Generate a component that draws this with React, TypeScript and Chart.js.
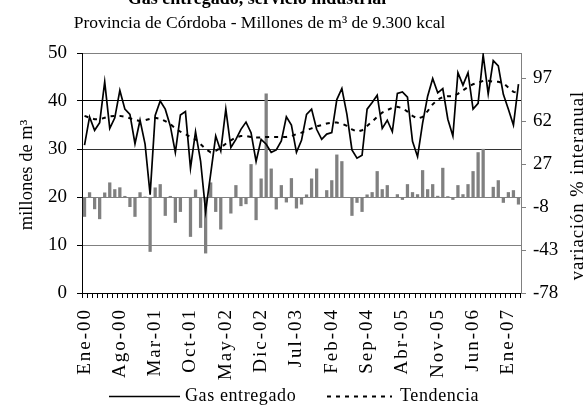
import React, { useEffect, useRef } from 'react';
import { Chart, registerables } from 'chart.js';

Chart.register(...registerables);

const FONT = '"Liberation Serif", "Times New Roman", serif';

const TITLE = 'Gas entregado, servicio industrial';
const SUBTITLE = 'Provincia de Córdoba - Millones de m³ de 9.300 kcal';
const Y_TITLE = 'millones de m³';
const Y1_TITLE = 'variación % interanual';

const MONTHS = ['Ene', 'Feb', 'Mar', 'Abr', 'May', 'Jun', 'Jul', 'Ago', 'Sep', 'Oct', 'Nov', 'Dic'];
const YEARS = ['00', '01', '02', '03', '04', '05', '06', '07'];
const LAST_MONTH_2007 = 3; // Ene-07 .. Mar-07

const CATEGORIES: string[] = [];
YEARS.forEach((y, yi) => {
  const n = yi === YEARS.length - 1 ? LAST_MONTH_2007 : 12;
  for (let m = 0; m < n; m++) CATEGORIES.push(`${MONTHS[m]}-${y}`);
});

// Gas entregado (millones de m3)
const GAS = [
  30.8, 36.7, 33.9, 35.5, 44.0, 34.3, 36.5, 42.2, 38.3, 37.2,
  31.1, 36.0, 31.0, 20.5, 37.0, 40.0, 38.3, 34.8, 29.3, 37.1,
  37.8, 26.0, 33.6, 27.5, 17.0, 24.8, 32.7, 29.6, 38.3, 30.3,
  32.0, 34.1, 35.6, 33.4, 27.4, 32.0, 31.0, 29.3, 29.8, 31.7,
  36.7, 35.0, 29.3, 31.8, 37.2, 38.3, 34.1, 32.0, 33.1, 33.4,
  40.3, 42.6, 37.2, 29.8, 28.1, 28.7, 38.3, 39.7, 41.2, 34.3,
  36.0, 33.6, 41.6, 41.9, 40.8, 31.6, 28.4, 35.4, 41.0, 44.7,
  41.7, 42.6, 36.2, 32.7, 45.9, 43.3, 45.9, 38.3, 39.5, 49.6,
  41.5, 48.4, 47.3, 41.4, 38.3, 35.0, 43.5,
];

// Tendencia (millones de m3)
const TREND = [
  36.9, 36.5, 36.2, 36.2, 36.5, 36.8, 36.9, 36.9, 36.7, 36.4,
  36.1, 35.8, 36.0, 36.3, 36.5, 36.3, 35.8, 35.2, 34.3, 33.6,
  33.1, 32.5, 32.0, 31.0, 30.0, 29.3, 29.6, 30.3, 31.1, 31.8,
  32.4, 32.7, 32.7, 32.5, 32.4, 32.4, 32.5, 32.5, 32.5, 32.5,
  32.5, 32.7, 33.1, 33.4, 33.9, 34.3, 34.7, 35.0, 35.3, 35.5,
  35.5, 35.3, 34.8, 34.1, 33.6, 33.9, 34.8, 35.7, 36.7, 37.6,
  38.1, 38.6, 38.8, 38.5, 37.8, 36.9, 36.3, 36.7, 37.9, 39.3,
  40.3, 40.8, 41.0, 41.0, 41.5, 42.2, 42.9, 43.5, 43.8, 44.2,
  44.2, 44.0, 44.0, 43.7, 42.8, 41.9, 41.7,
];

// Variación % interanual
const VARIATION = [
  -16, 4, -9.8, -17.9, 3.8, 12, 6.5, 8, 1, -8,
  -16, 4, 0.5, -44.5, 7.9, 10.6, -15.2, 1, -20.9, -12,
  0, -32.3, 6.2, -25, -45.8, 12, -12, -26.3, 0, -13.3,
  9.8, -7.3, -5.7, 26.9, -18.7, 15.2, 84.4, 23.3, -10, 9.8,
  -4.3, 15.5, -9.2, -6, 2.2, 15.2, 23.3, 0, 5.7, 13.8,
  34.7, 29.3, 0, -15.2, -4.6, -12, 2.2, 4.1, 21.2, 6.5,
  9.8, 0, 2.4, -2.2, 10.6, 4.1, 2.4, 22, 6.5, 10.6,
  1.1, 23.9, 0.8, -2.2, 9.8, 2.4, 10.6, 21.2, 36.6, 39.3,
  0, 8.4, 13.8, -4.6, 4.1, 5.7, -6,
];

const LEFT_TICKS = [0, 10, 20, 30, 40, 50];
const RIGHT_TICKS = [-78, -43, -8, 27, 62, 97];
const LABEL_EVERY = 7;

const xSpacingPlugin = {
  id: 'xSpacing',
  beforeDraw(chart: any) {
    const xs: any = chart.scales.x;
    if (xs && !xs.__spaced) {
      const orig = xs.drawLabels.bind(xs);
      xs.drawLabels = (area: any) => {
        const c: any = chart.ctx;
        c.save();
        c.letterSpacing = '2px';
        orig(area);
        c.restore();
      };
      xs.__spaced = true;
    }
  },
};

const textPlugin = {
  id: 'texts',
  afterDraw(chart: any) {
    const ctx: any = chart.ctx;
    const area = chart.chartArea;
    ctx.save();
    ctx.fillStyle = '#000';
    ctx.textAlign = 'center';
    ctx.textBaseline = 'alphabetic';

    ctx.font = `bold 18px ${FONT}`;
    ctx.fillText(TITLE, 257, 4);
    ctx.font = `17.5px ${FONT}`;
    ctx.fillText(SUBTITLE, 259.5, 28);

    // Axis titles
    ctx.font = `18.5px ${FONT}`;
    ctx.save();
    ctx.translate(32, (area.top + area.bottom) / 2 + 2);
    ctx.rotate(-Math.PI / 2);
    ctx.fillText(Y_TITLE, 0, 0);
    ctx.restore();

    const y1 = chart.scales.y1;
    ctx.save();
    ctx.translate(583, (y1.getPixelForValue(RIGHT_TICKS[0]) + y1.getPixelForValue(RIGHT_TICKS[RIGHT_TICKS.length - 1])) / 2);
    ctx.rotate(-Math.PI / 2);
    ctx.letterSpacing = '1px';
    ctx.fillText(Y1_TITLE, 0, 0);
    ctx.restore();

    // Legend
    const items = [
      { ds: chart.data.datasets[0], x0: 109, x1: 180, tx: 185 },
      { ds: chart.data.datasets[1], x0: 327, x1: 392, tx: 400 },
    ];
    ctx.font = `18px ${FONT}`;
    ctx.textAlign = 'left';
    ctx.letterSpacing = '0.6px';
    items.forEach((it) => {
      ctx.save();
      ctx.strokeStyle = it.ds.borderColor;
      ctx.lineWidth = it.ds.borderWidth;
      ctx.setLineDash(it.ds.borderDash || []);
      ctx.beginPath();
      ctx.moveTo(it.x0, 396.5);
      ctx.lineTo(it.x1, 396.5);
      ctx.stroke();
      ctx.restore();
      ctx.fillText(it.ds.label, it.tx, 401);
    });
    ctx.restore();
  },
};

export default function App() {
  const ref = useRef<HTMLCanvasElement | null>(null);

  useEffect(() => {
    if (!ref.current) return;
    const chart = new Chart(ref.current, {
      data: {
        labels: CATEGORIES,
        datasets: [
          {
            type: 'line',
            label: 'Gas entregado',
            data: GAS,
            borderColor: '#000',
            borderWidth: 1.7,
            pointRadius: 0,
            tension: 0,
            yAxisID: 'y',
            order: 1,
          },
          {
            type: 'line',
            label: 'Tendencia',
            data: TREND,
            borderColor: '#000',
            borderWidth: 2,
            borderDash: [4, 5],
            pointRadius: 0,
            tension: 0,
            yAxisID: 'y',
            order: 2,
          },
          {
            type: 'bar',
            label: 'variación % interanual',
            data: VARIATION,
            backgroundColor: '#808080',
            borderWidth: 0,
            categoryPercentage: 1,
            barPercentage: 0.65,
            yAxisID: 'y1',
            order: 3,
          },
        ] as any,
      },
      options: {
        animation: false,
        responsive: false,
        devicePixelRatio: 1,
        layout: { padding: { top: 53, left: 0, right: 0, bottom: 0 } },
        plugins: { legend: { display: false }, tooltip: { enabled: false }, title: { display: false } },
        scales: {
          x: {
            type: 'category',
            offset: true,
            grid: { drawOnChartArea: false, offset: true, tickLength: 5, color: '#000', tickColor: '#000' },
            border: { color: '#000', width: 1 },
            ticks: {
              autoSkip: false,
              maxRotation: 90,
              minRotation: 90,
              padding: 10,
              color: '#000',
              font: { family: FONT, size: 19 },
              callback: (_v: any, i: number) => (i % LABEL_EVERY === 0 ? CATEGORIES[i] : ''),
            },
            afterFit: (s: any) => { s.height = 112; },
          },
          y: {
            type: 'linear',
            position: 'left',
            min: LEFT_TICKS[0],
            max: LEFT_TICKS[LEFT_TICKS.length - 1],
            ticks: { stepSize: 10, padding: 10, color: '#000', font: { family: FONT, size: 19 } },
            grid: {
              tickLength: 5,
              tickColor: '#000',
              color: (c: any) => {
                const v = c.tick?.value;
                if (v === 0) return 'rgba(0,0,0,0)';
                if (v === 40) return '#000';
                if (v === 30) return '#333';
                return '#808080';
              },
            },
            border: { color: '#000', width: 1 },
            afterFit: (s: any) => { s.width = 82; },
          },
          y1: {
            type: 'linear',
            position: 'right',
            min: -78,
            max: 117.35,
            afterBuildTicks: (s: any) => { s.ticks = RIGHT_TICKS.map((v) => ({ value: v })); },
            ticks: { padding: 7, color: '#000', font: { family: FONT, size: 19 } },
            grid: { drawOnChartArea: false, tickLength: 5, color: '#808080', tickColor: '#808080' },
            border: { color: '#808080', width: 1 },
            afterFit: (s: any) => { s.width = 66; },
          },
        },
      } as any,
      plugins: [xSpacingPlugin, textPlugin],
    });
    return () => chart.destroy();
  }, []);

  return (
    <div style={{ position: 'absolute', left: 0, top: 0, width: 587, height: 405, background: '#fff' }}>
      <canvas ref={ref} width={587} height={405} style={{ display: 'block' }} />
    </div>
  );
}
